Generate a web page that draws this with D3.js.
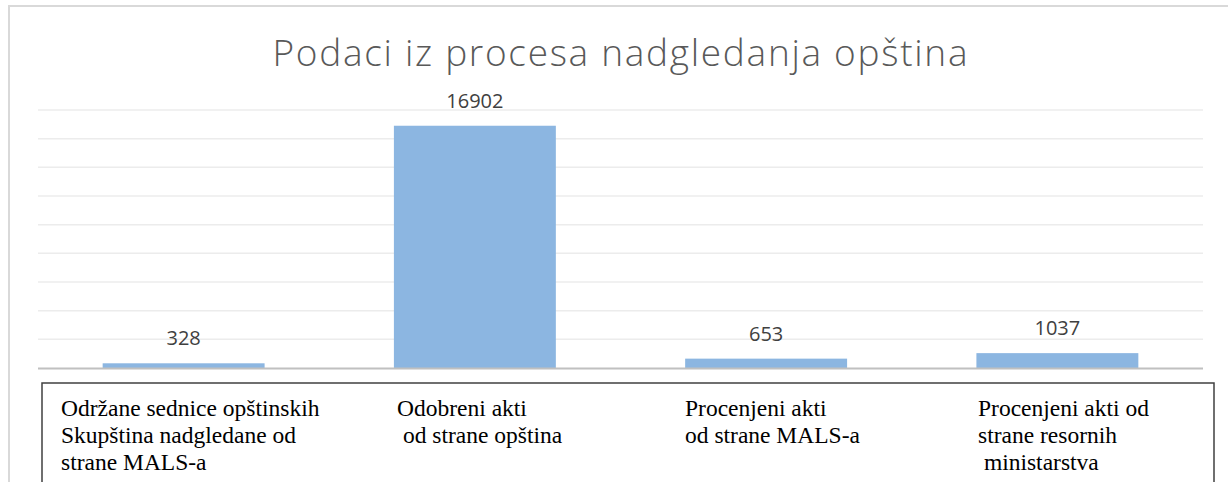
<!DOCTYPE html>
<html>
<head>
<meta charset="utf-8">
<script src="https://cdn.jsdelivr.net/npm/d3@7/dist/d3.min.js"></script>
<style>
  html, body { margin: 0; padding: 0; background: #fff; }
  svg { display: block; }
  .cat-label { font-family: "Liberation Serif", "Times New Roman", serif; font-size: 23.5px; fill: #000; white-space: pre; }
</style>
</head>
<body>
<svg id="chart" width="1228" height="482"></svg>
<script>
const title = "Podaci iz procesa nadgledanja opština";
const categories = ["c1", "c2", "c3", "c4"];
const values = [328, 16902, 653, 1037];
// label lines under each bar (the boxed legend-like table)
const labelLines = [
  ["Održane sednice opštinskih", "Skupština nadgledane od", "strane MALS-a"],
  ["Odobreni akti", " od strane opština"],
  ["Procenjeni akti", "od strane MALS-a"],
  ["Procenjeni akti od", "strane resornih", " ministarstva"]
];
const labelX = [61, 397, 685, 978];
const yMax = 18000;
const yStep = 2000;

const svg = d3.select("#chart");
const margin = { top: 110, left: 38, right: 1203, bottom: 368 };

// outer chart frame (only top and left edges are visible)
svg.append("path")
  .attr("d", "M9,482 L9,6 L1228,6")
  .attr("fill", "none")
  .attr("stroke", "#d9d9d9")
  .attr("stroke-width", 2);

svg.append("text")
  .attr("x", 620)
  .attr("y", 66)
  .attr("text-anchor", "middle")
  .attr("textLength", 695)
  .attr("lengthAdjust", "spacing")
  .style("font-family", "'Open Sans', 'Noto Sans', sans-serif")
  .style("font-weight", 300)
  .style("font-size", "37px")
  .style("fill", "#595959")
  .text(title);

const x = d3.scaleBand()
  .domain(categories)
  .range([margin.left, margin.right])
  .paddingInner(0.444)
  .paddingOuter(0.222);

const y = d3.scaleLinear()
  .domain([0, yMax])
  .range([margin.bottom, margin.top]);

// gridlines
svg.append("g")
  .selectAll("line")
  .data(d3.range(yStep, yMax + 1, yStep))
  .enter().append("line")
  .attr("x1", margin.left)
  .attr("x2", margin.right)
  .attr("y1", d => y(d))
  .attr("y2", d => y(d))
  .attr("stroke", "#ececec")
  .attr("stroke-width", 1.5);

// bars
svg.append("g")
  .selectAll("rect")
  .data(values)
  .enter().append("rect")
  .attr("x", (d, i) => x(categories[i]))
  .attr("width", x.bandwidth())
  .attr("y", d => y(d))
  .attr("height", d => y(0) - y(d))
  .attr("fill", "#8cb6e1");

// value labels
svg.append("g")
  .selectAll("text")
  .data(values)
  .enter().append("text")
  .attr("x", (d, i) => x(categories[i]) + x.bandwidth() / 2)
  .attr("y", d => y(d) - 18)
  .attr("text-anchor", "middle")
  .style("font-family", "'Open Sans', 'Noto Sans', sans-serif")
  .style("font-size", "20px")
  .style("fill", "#404040")
  .text(d => d);

// baseline axis
svg.append("line")
  .attr("x1", margin.left)
  .attr("x2", margin.right)
  .attr("y1", y(0) + 0.5)
  .attr("y2", y(0) + 0.5)
  .attr("stroke", "#c0c0c0")
  .attr("stroke-width", 2);

// boxed category table
svg.append("path")
  .attr("d", "M42,490 L42,383 L1214,383 L1214,490")
  .attr("fill", "none")
  .attr("stroke", "#404040")
  .attr("stroke-width", 1.5);

const lab = svg.append("g")
  .selectAll("g")
  .data(labelLines)
  .enter().append("g");

lab.selectAll("text")
  .data(d => d)
  .enter().append("text")
  .attr("class", "cat-label")
  .attr("x", function () { return labelX[labelLines.indexOf(d3.select(this.parentNode).datum())]; })
  .attr("y", (d, i) => 416 + i * 27)
  .text(d => d);
</script>
</body>
</html>
